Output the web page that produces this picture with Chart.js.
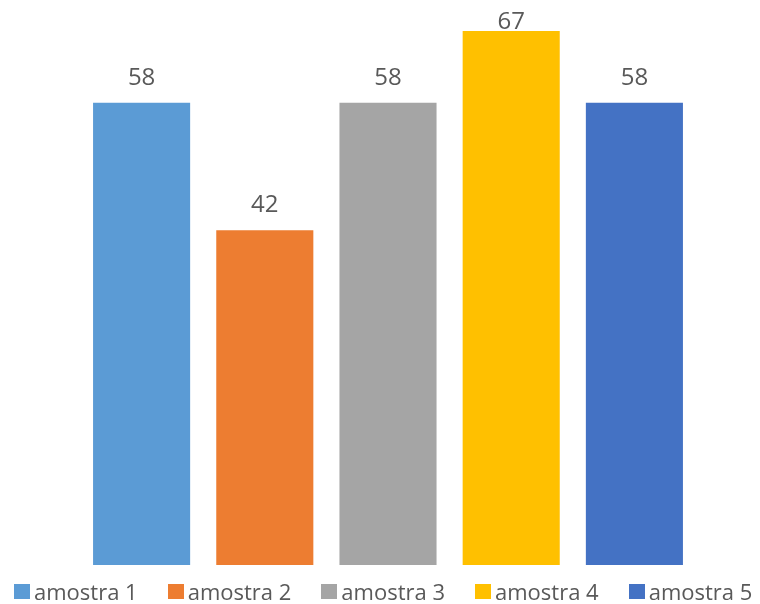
<!DOCTYPE html>
<html>
<head>
<meta charset="utf-8">
<script src="https://cdn.jsdelivr.net/npm/chart.js@4/dist/chart.umd.min.js"></script>
<style>
  html, body { margin: 0; padding: 0; background: #fff; }
  #wrap { position: relative; width: 760px; height: 604px; }
  #legend {
    position: absolute; left: 14px; top: 577px; height: 28px;
    display: flex; align-items: center;
    font-family: "Open Sans", sans-serif; font-size: 22px; color: #595959;
  }
  #legend .item { display: flex; align-items: center; margin-right: 30px; white-space: nowrap; }
  #legend .box { width: 16px; height: 15px; margin-right: 4px; }
</style>
</head>
<body>
<div id="wrap">
  <canvas id="chart" width="760" height="604"></canvas>
  <div id="legend"></div>
</div>
<script>
// ===== Dados =====
const seriesNames = ['amostra 1', 'amostra 2', 'amostra 3', 'amostra 4', 'amostra 5'];
const seriesValues = [58, 42, 58, 67, 58];
const seriesColors = ['#5B9BD5', '#ED7D31', '#A5A5A5', '#FFC000', '#4472C4'];

// rótulos de valor acima de cada barra (presos dentro da área do gráfico)
const valueLabels = {
  id: 'valueLabels',
  afterDatasetsDraw(chart) {
    let ctx = chart.ctx;
    ctx.save();
    ctx.font = '24px "Open Sans"';
    ctx.fillStyle = '#595959';
    ctx.textAlign = 'center';
    ctx.textBaseline = 'alphabetic';
    chart.data.datasets.forEach((ds, i) => {
      chart.getDatasetMeta(i).data.forEach((bar, j) => {
        let y = Math.max(bar.y - 18, chart.chartArea.top + 22);
        ctx.fillText(ds.data[j], bar.x, y);
      });
    });
    ctx.restore();
  }
};

let datasets = seriesNames.map((name, i) => ({
  label: name,
  data: [seriesValues[i]],
  backgroundColor: seriesColors[i],
  borderWidth: 0,
  categoryPercentage: 1.0,
  barPercentage: 0.788
}));

new Chart(document.getElementById('chart'), {
  type: 'bar',
  data: { labels: [''], datasets: datasets },
  options: {
    responsive: false,
    animation: false,
    layout: { padding: { left: 80, right: 64, top: 7, bottom: 39 } },
    plugins: { legend: { display: false }, tooltip: { enabled: false } },
    scales: {
      x: { display: false },
      y: { display: false, min: 0, max: 70 }
    }
  },
  plugins: [valueLabels]
});

// legenda embaixo
let legend = document.getElementById('legend');
seriesNames.forEach((name, i) => {
  let item = document.createElement('div');
  item.className = 'item';
  let box = document.createElement('span');
  box.className = 'box';
  box.style.background = seriesColors[i];
  let txt = document.createElement('span');
  txt.innerText = name;
  item.appendChild(box);
  item.appendChild(txt);
  legend.appendChild(item);
});
</script>
</body>
</html>
